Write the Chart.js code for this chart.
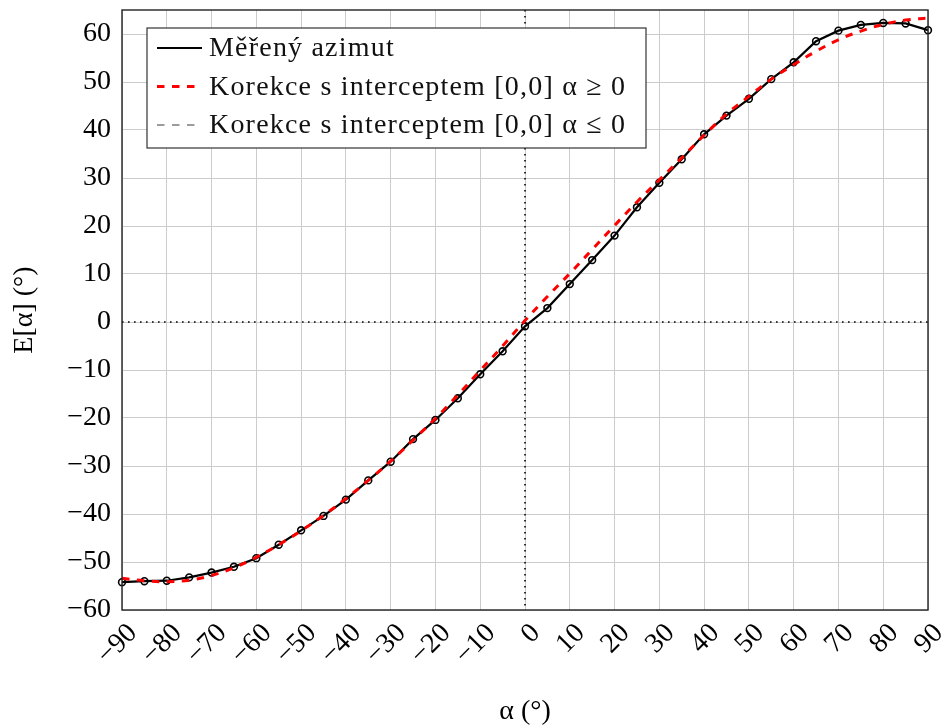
<!DOCTYPE html>
<html>
<head>
<meta charset="utf-8">
<script src="https://cdn.jsdelivr.net/npm/chart.js@4.4.1/dist/chart.umd.min.js"></script>
<style>
  html, body { margin: 0; padding: 0; background: #ffffff; }
  #wrap { width: 944px; height: 728px; }
</style>
</head>
<body>
<div id="wrap"><canvas id="chart" width="944" height="728"></canvas></div>
<script>
// Azimuth angle α in degrees (sampling step 5°)
const alphaDeg = [-90, -85, -80, -75, -70, -65, -60, -55, -50, -45, -40, -35, -30, -25, -20, -15, -10, -5,
                  0, 5, 10, 15, 20, 25, 30, 35, 40, 45, 50, 55, 60, 65, 70, 75, 80, 85, 90];

// Measured azimut E[α]
const measuredAzimuth = [-54.2, -54.0, -53.9, -53.2, -52.2, -51.0, -49.2, -46.4, -43.4, -40.4, -37.0, -33.0,
                         -29.1, -24.4, -20.4, -15.9, -10.9, -6.1, -0.9, 2.9, 7.9, 12.9, 18.0, 23.9, 29.0,
                         33.9, 39.1, 43.0, 46.5, 50.6, 54.1, 58.5, 60.7, 61.9, 62.3, 62.2, 60.8];

// Correction with intercept [0,0] fitted for α ≥ 0
const correctionPos = [-53.4, -53.9, -54.1, -53.8, -52.8, -51.2, -49.0, -46.4, -43.5, -40.3, -36.8, -33.0,
                       -29.0, -24.6, -20.1, -15.2, -10.1, -5.0, 0.3, 5.3, 10.1, 15.1, 20.1, 25.0, 29.6,
                       34.2, 38.9, 43.3, 47.0, 50.6, 53.6, 56.4, 58.8, 60.6, 62.0, 62.9, 63.3];

// Correction with intercept [0,0] for α ≤ 0 (legend entry only, no points plotted)
const correctionNeg = [];

// Axis ranges and tick spacing
const xRange = [-90, 90];
const yRange = [-60, 65];
const tickStep = 10;

const labels = {
  measured: 'Měřený azimut',
  corrPos: 'Korekce s interceptem [0,0] α ≥ 0',
  corrNeg: 'Korekce s interceptem [0,0] α ≤ 0',
  xTitle: 'α (°)',
  yTitle: 'E[α] (°)'
};

const FONT = '"Liberation Serif", "Times New Roman", serif';
const toPoints = (xs, ys) => ys.map((y, i) => ({ x: xs[i], y: y }));
const fmtTick = v => (v < 0 ? '\u2212' + Math.abs(v) : String(v));

// Dotted reference lines through x = 0 and y = 0
const zeroLines = {
  id: 'zeroLines',
  beforeDatasetsDraw(chart) {
    const { ctx, chartArea: a, scales: { x, y } } = chart;
    const px = x.getPixelForValue(0), py = y.getPixelForValue(0);
    ctx.save();
    ctx.strokeStyle = '#000';
    ctx.lineWidth = 1.6;
    ctx.setLineDash([1.6, 4.4]);
    ctx.beginPath();
    ctx.moveTo(a.left, py); ctx.lineTo(a.right, py);
    ctx.moveTo(px, a.top); ctx.lineTo(px, a.bottom);
    ctx.stroke();
    ctx.restore();
  }
};

// Black frame around the plotting area
const frame = {
  id: 'frame',
  afterDatasetsDraw(chart) {
    const { ctx, chartArea: a } = chart;
    ctx.save();
    ctx.strokeStyle = '#222';
    ctx.lineWidth = 1.4;
    ctx.strokeRect(a.left, a.top, a.right - a.left, a.bottom - a.top);
    ctx.restore();
  }
};

// Boxed legend in the upper-left corner of the plotting area
const boxedLegend = {
  id: 'boxedLegend',
  afterDraw(chart) {
    const { ctx, chartArea: a } = chart;
    const left = a.left + 25, top = a.top + 18, w = 499, h = 120;
    ctx.save();
    ctx.fillStyle = '#fff';
    ctx.fillRect(left, top, w, h);
    ctx.strokeStyle = '#333';
    ctx.lineWidth = 1.2;
    ctx.strokeRect(left, top, w, h);
    ctx.font = '28px ' + FONT;
    ctx.fillStyle = '#111';
    ctx.textBaseline = 'middle';
    if ('letterSpacing' in ctx) ctx.letterSpacing = '1.2px';
    chart.data.datasets.forEach((ds, i) => {
      const cy = top + 20 + i * 38.5;
      ctx.save();
      ctx.strokeStyle = ds.borderColor;
      ctx.lineWidth = ds.borderWidth;
      ctx.setLineDash(ds.borderDash || []);
      ctx.beginPath();
      ctx.moveTo(left + 10, cy);
      ctx.lineTo(left + (ds.borderDash ? 48 : 55), cy);
      ctx.stroke();
      ctx.restore();
      ctx.fillText(ds.label, left + 62, cy + 1);
    });
    ctx.restore();
  }
};

new Chart(document.getElementById('chart'), {
  type: 'line',
  data: {
    datasets: [
      {
        label: labels.measured,
        data: toPoints(alphaDeg, measuredAzimuth),
        borderColor: '#000',
        borderWidth: 2.2,
        pointStyle: 'circle',
        pointRadius: 3.4,
        pointBorderWidth: 1.6,
        pointBorderColor: '#000',
        pointBackgroundColor: 'rgba(255,255,255,0)',
        tension: 0,
        clip: false,
        order: 2
      },
      {
        label: labels.corrPos,
        data: toPoints(alphaDeg, correctionPos),
        borderColor: '#ff0000',
        borderWidth: 3,
        borderDash: [7.5, 7.5],
        pointRadius: 0,
        tension: 0.4,
        clip: false,
        order: 1
      },
      {
        label: labels.corrNeg,
        data: toPoints(alphaDeg, correctionNeg),
        borderColor: '#3a3a3a',
        borderWidth: 1.1,
        borderDash: [7.5, 7.5],
        pointRadius: 0,
        order: 3
      }
    ]
  },
  options: {
    responsive: false,
    animation: false,
    devicePixelRatio: 1,
    layout: { padding: { left: 0, right: 16, top: 10, bottom: 0 } },
    plugins: { legend: { display: false }, tooltip: { enabled: false } },
    scales: {
      x: {
        type: 'linear',
        min: xRange[0],
        max: xRange[1],
        grid: { color: '#cccccc', lineWidth: 1, drawTicks: false },
        border: { display: false },
        ticks: {
          stepSize: tickStep,
          autoSkip: false,
          minRotation: 45,
          maxRotation: 45,
          labelOffset: 11,
          padding: 7,
          color: '#000',
          font: { family: FONT, size: 28 },
          callback: fmtTick
        },
        title: {
          display: true,
          text: labels.xTitle,
          color: '#000',
          font: { family: FONT, size: 28 },
          padding: { top: 0, bottom: 0 }
        },
        afterFit(scale) {
          scale.height = 118;
          scale.paddingLeft = 0;
          scale.paddingRight = 0;
        }
      },
      y: {
        min: yRange[0],
        max: yRange[1],
        grid: { color: '#cccccc', lineWidth: 1, drawTicks: false },
        border: { display: false },
        afterBuildTicks(scale) {
          scale.ticks = scale.ticks.filter(t => Math.abs(t.value / tickStep - Math.round(t.value / tickStep)) < 1e-6);
        },
        ticks: {
          stepSize: tickStep,
          includeBounds: false,
          padding: 11,
          color: '#000',
          font: { family: FONT, size: 28 },
          callback: fmtTick
        },
        title: {
          display: true,
          text: labels.yTitle,
          color: '#000',
          font: { family: FONT, size: 28 },
          padding: { top: 8, bottom: 0 }
        },
        afterFit(scale) {
          scale.width = 122;
          scale.paddingTop = 0;
          scale.paddingBottom = 0;
        }
      }
    }
  },
  plugins: [zeroLines, frame, boxedLegend]
});
</script>
</body>
</html>
